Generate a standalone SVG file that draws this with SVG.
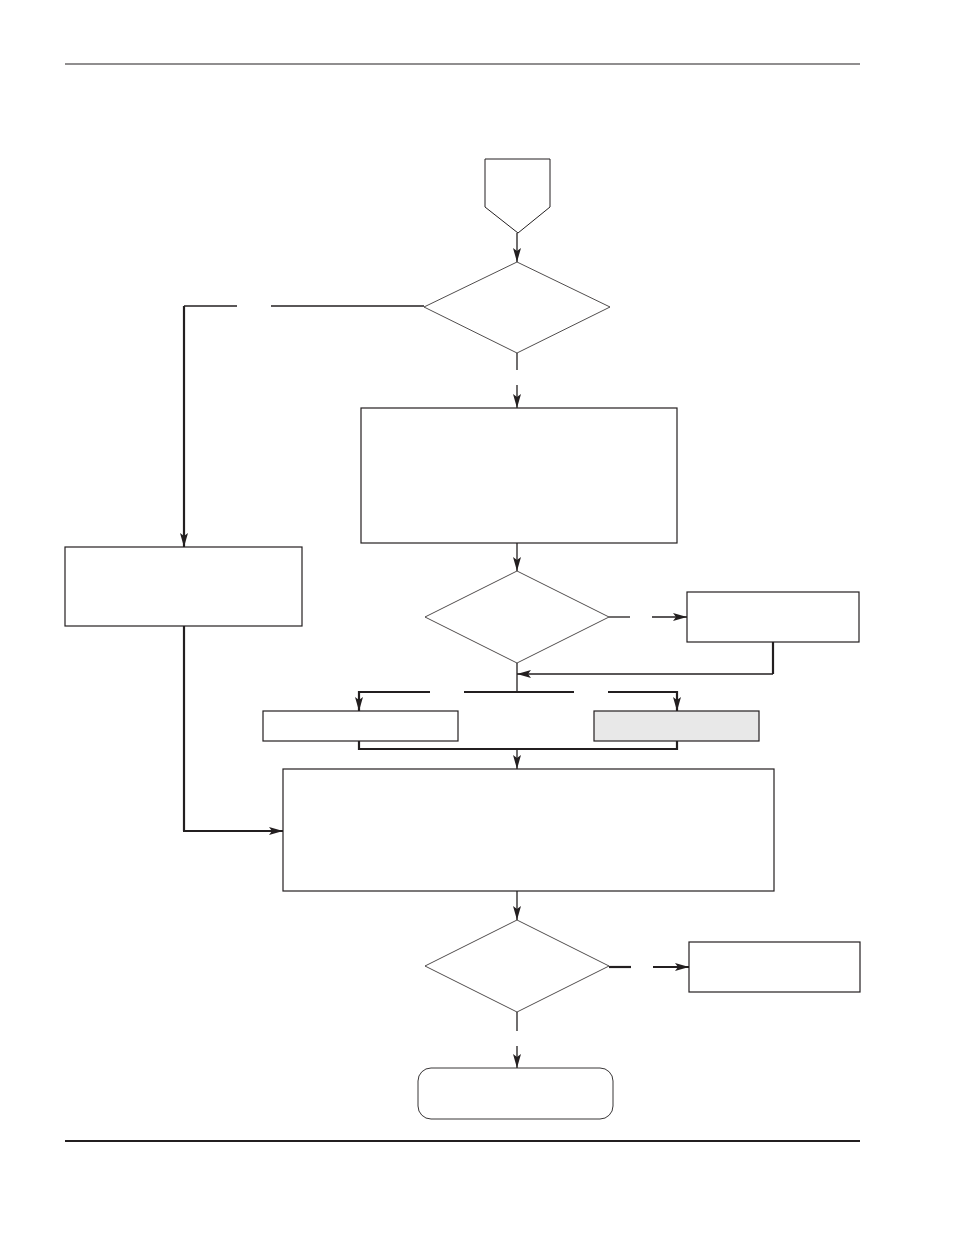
<svg xmlns="http://www.w3.org/2000/svg" width="954" height="1235" viewBox="0 0 954 1235">
<style>
.box{fill:#fff;stroke:#231f20;stroke-width:1.2}
.gray{fill:#e8e8e8;stroke:#231f20;stroke-width:1.2}
.dia{fill:#fff;stroke:#231f20;stroke-width:0.8}
.c{fill:none;stroke:#231f20;stroke-width:1.3}
.t{fill:none;stroke:#231f20;stroke-width:2.2}
.ca{fill:none;stroke:#231f20;stroke-width:1.3;marker-end:url(#ah)}
.ta{fill:none;stroke:#231f20;stroke-width:2.2;marker-end:url(#ah)}
</style>
<defs>
<marker id="ah" markerUnits="userSpaceOnUse" markerWidth="14" markerHeight="10" viewBox="0 0 14 10" refX="14" refY="5" orient="auto">
<path d="M0,1 L14,5 L0,9 L3,5 Z" fill="#231f20"/>
</marker>
</defs>
<g id="rules">
<line x1="65" y1="64" x2="860" y2="64" stroke="#231f20" stroke-width="1.2"/>
<line x1="65" y1="1141" x2="860" y2="1141" stroke="#231f20" stroke-width="2.2"/>
</g>
<g id="connectors">
<path class="ca" d="M517,233 V262"/>
<path class="c" d="M424,306 H271"/>
<path class="c" d="M237,306 H184"/>
<path class="ta" d="M184,306 V547"/>
<path class="c" d="M517,353 V370"/>
<path class="ca" d="M517,385 V408"/>
<path class="ca" d="M517,543 V571"/>
<path class="c" d="M609,617 H630"/>
<path class="ca" d="M652,617 H687"/>
<path class="t" d="M773,642 V674"/>
<path class="ca" d="M773,674 H517"/>
<path class="c" d="M517,663 V692"/>
<path class="t" d="M430,692 H359"/>
<path class="ta" d="M359,691 V711"/>
<path class="t" d="M464,692 H574"/>
<path class="t" d="M608,692 H677"/>
<path class="ta" d="M677,691 V711"/>
<path class="t" d="M359,741 V749 H677 V741"/>
<path class="ca" d="M517,749 V769"/>
<path class="t" d="M184,626 V831"/>
<path class="ta" d="M183,831 H283"/>
<path class="ca" d="M517,891 V920"/>
<path class="t" d="M609,967 H631"/>
<path class="ta" d="M653,967 H689"/>
<path class="c" d="M517,1012 V1031"/>
<path class="ca" d="M517,1046 V1068"/>
</g>
<g id="start"><path class="dia" d="M485,159 H550 V207 L518,233 L485,207 Z" style="stroke-width:1"/></g>
<g id="decision1"><path class="dia" d="M517,262 L610,307 L517,353 L424,307 Z"/></g>
<g id="box-a"><rect class="box" x="361" y="408" width="316" height="135"/></g>
<g id="box-left"><rect class="box" x="65" y="547" width="237" height="79"/></g>
<g id="decision2"><path class="dia" d="M517,571 L609,617 L517,663 L425,617 Z"/></g>
<g id="box-right1"><rect class="box" x="687" y="592" width="172" height="50"/></g>
<g id="box-small-left"><rect class="box" x="263" y="711" width="195" height="30"/></g>
<g id="box-small-right"><rect class="gray" x="594" y="711" width="165" height="30"/></g>
<g id="box-b"><rect class="box" x="283" y="769" width="491" height="122"/></g>
<g id="decision3"><path class="dia" d="M517,920 L609,966 L517,1012 L425,966 Z"/></g>
<g id="box-right2"><rect class="box" x="689" y="942" width="171" height="50"/></g>
<g id="end"><rect class="box" x="418" y="1068" width="195" height="51" rx="13" style="stroke-width:0.9"/></g>
</svg>
